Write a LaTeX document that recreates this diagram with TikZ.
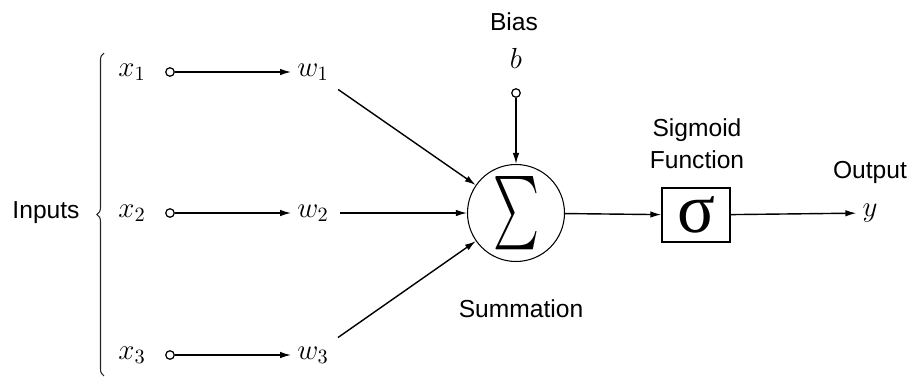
\RequirePackage{fix-cm}
\documentclass[tikz,border=0pt]{standalone}
\usepackage{amsmath}
\usepackage{graphicx}
\usepackage{fontspec}
\usepackage{tikz}
\usetikzlibrary{arrows.meta,decorations.pathreplacing}
\newfontfamily\labelfont{Liberation Sans}
\newfontfamily\sigfont{Liberation Serif}

\begin{document}
\begin{tikzpicture}[x=0.02cm,y=-0.02cm,
  lbl/.style={font=\labelfont\fontsize{14}{18}\selectfont,align=center},
  var/.style={font=\fontsize{16.5}{20}\selectfont},
  pin/.style={circle,draw,line width=0.7pt,inner sep=0pt,minimum size=0.17cm},
  conn/.style={-{Latex[length=2.2mm,width=1.3mm]},line width=0.8pt}]
  \useasboundingbox (0,0) rectangle (913,376);
  % Inputs and brace
  \node[lbl] (inputs) at (46,213) {Inputs};
  \draw[decorate,decoration={brace,amplitude=4pt},line width=0.6pt,black!85] (104,376) -- (104,53);
  % Input rows
  \foreach \i/\y in {1/72,2/213,3/355} {
    \node[var] (x\i) at (132,\y) {$x_\i$};
    \node[pin] (c\i) at (170,\y) {};
    \node[var] (w\i) at (313,\y) {$w_\i$};
    \draw[conn] (c\i) -- (w\i);
  }
  % Summation
  \node[circle,draw,line width=0.6pt,minimum size=1.94cm,inner sep=0pt] (sum) at (516,213) {\resizebox{0.92cm}{1.1cm}{$\sum$}};
  \foreach \i in {1,2,3}
    \draw[conn,shorten <=0.1cm] (w\i) -- (sum);
  \node[lbl] (summlbl) at (521,309) {Summation};
  % Bias
  \node[lbl] (biaslbl) at (514,22) {Bias};
  \node[var] (b) at (516,58) {$b$};
  \node[pin] (cb) at (516,93) {};
  \draw[conn] (cb) -- (sum);
  % Sigmoid and output
  \node[draw,line width=0.8pt,minimum width=1.36cm,minimum height=1.08cm,inner sep=0pt] (sig) at (696,215) {\fontsize{40}{40}\sigfont σ};
  \node[lbl] (siglbl) at (697,144) {Sigmoid\\Function};
  \draw[conn] (sum) -- (sig);
  \node[var] (y) at (870,213) {$y$};
  \node[lbl] (outlbl) at (870,172) {Output};
  \draw[conn] (sig) -- (y);
\end{tikzpicture}
\end{document}
